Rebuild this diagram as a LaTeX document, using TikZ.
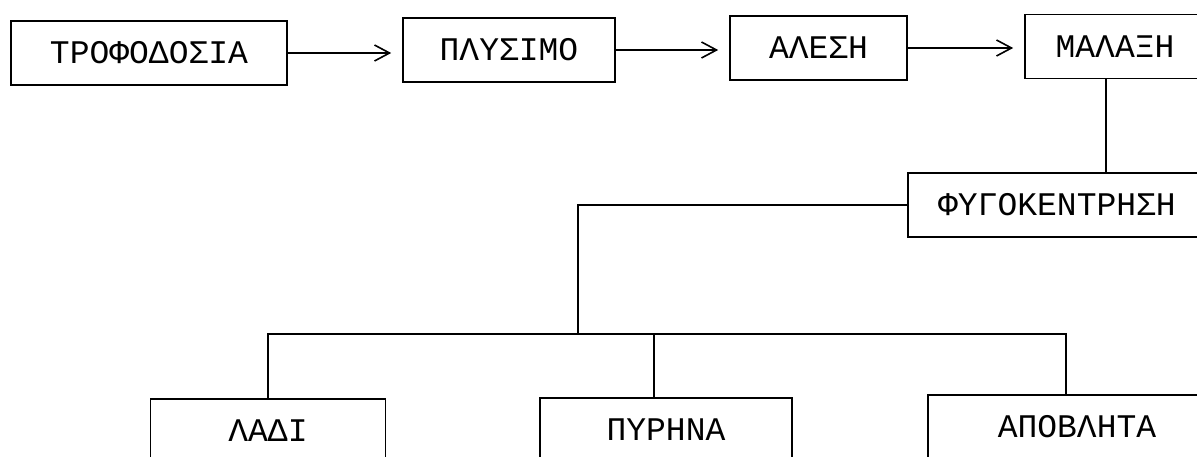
\documentclass[tikz,border=0pt]{standalone}
\usepackage{fontspec}
\setmonofont{Liberation Mono}
\usetikzlibrary{arrows.meta}
\begin{document}
\begin{tikzpicture}[x=1pt,y=-1pt,
	stage/.style={draw,line width=1.6pt,minimum height=64pt,inner sep=0pt,
		font=\ttfamily\fontsize{33}{40}\selectfont},
	feed/.style={line width=1.6pt,-{Straight Barb[length=15pt,width=16pt]},shorten >=11pt},
	link/.style={line width=1.6pt}]
	\useasboundingbox (0,0) rectangle (1197,457);
	\clip (0,0) rectangle (1197,457);

	\node [stage,minimum width=276pt] (trof) at (149,53) {ΤΡΟΦΟΔΟΣΙΑ};
	\node [stage,minimum width=212pt] (plys) at (509,50) {ΠΛΥΣΙΜΟ};
	\node [stage,minimum width=177pt] (ales) at (818.5,48) {ΑΛΕΣΗ};
	\node [stage,minimum width=180pt] (malax) at (1115,46.5) {ΜΑΛΑΞΗ};
	\node [stage,minimum width=298pt] (fygo) at (1057,205) {ΦΥΓΟΚΕΝΤΡΗΣΗ};

	\node [stage,minimum width=235pt] (ladi) at (268,431) {ΛΑΔΙ};
	\node [stage,minimum width=252pt] (pyrh) at (666,430) {ΠΥΡΗΝΑ};
	\node [stage,minimum width=298pt] (apob) at (1077,427) {ΑΠΟΒΛΗΤΑ};

	\draw [feed] (trof.east) -- (trof.east -| plys.west);
	\draw [feed] (plys.east) -- (plys.east -| ales.west);
	\draw [feed] (ales.east) -- (ales.east -| malax.west);

	\draw [link] ([xshift=-9pt]malax.south) -- ([xshift=-9pt]malax.south |- fygo.north);

	\coordinate (split) at (578,334);
	\coordinate (busL) at (268,334);
	\coordinate (busM) at (654,334);
	\coordinate (busR) at (1066,334);

	\draw [link] (fygo.west) -| (split);
	\draw [link] (ladi.north) -- (busL) -- (busR) -- (busR |- apob.north);
	\draw [link] (busM) -- (busM |- pyrh.north);
\end{tikzpicture}
\end{document}
